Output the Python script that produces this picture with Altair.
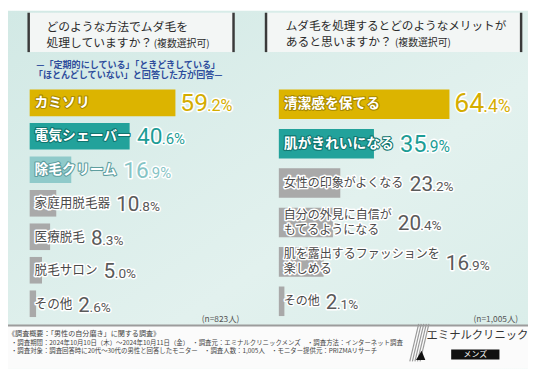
import altair as alt
import pandas as pd

# ---------------- data ----------------
left_categories = ["カミソリ", "電気シェーバー", "除毛クリーム", "家庭用脱毛器", "医療脱毛", "脱毛サロン", "その他"]
left_values = [59.2, 40.6, 16.9, 10.8, 8.3, 5.0, 2.6]
right_categories = ["清潔感を保てる", "肌がきれいになる", "女性の印象がよくなる",
                    "自分の外見に自信が\nもてるようになる", "肌を露出するファッションを\n楽しめる", "その他"]
right_values = [64.4, 35.9, 23.2, 20.4, 16.9, 2.1]

left_title_lines = ["どのような方法でムダ毛を", "処理していますか？"]
right_title_lines = ["ムダ毛を処理するとどのようなメリットが", "あると思いますか？"]
title_note = "(複数選択可)"
left_subtitle_lines = ["—「定期的にしている」「ときどきしている」", "「ほとんどしていない」と回答した方が回答—"]
left_n_label = "(n=823人)"
right_n_label = "(n=1,005人)"
footer_lines = [
    "《調査概要：「男性の自分磨き」に関する調査》",
    "・調査期間：2024年10月10日（木）～2024年10月11日（金）　・調査元：エミナルクリニックメンズ　・調査方法：インターネット調査",
    "・調査対象：調査回答時に20代～30代の男性と回答したモニター　・調査人数：1,005人　・モニター提供元：PRIZMAリサーチ",
]
logo_name = "エミナルクリニック"
logo_sub = "メンズ"

# ---------------- style ----------------
W, H = 528, 363
JP = "Noto Sans CJK JP"
NUM = "Roboto"
BAR_COL = {"gold": "#dcb400", "teal": "#22a29b", "light": "#8fcaca", "gray": "#a9a9a9"}
VAL_COL = {"gold": "#d4ad00", "teal": "#1d9d96", "light": "#86c4c5", "gray": "#5a5a5a"}
EDGE_COL = {"gold": "#a88900", "teal": "#0f746e", "light": "#5e9e9f", "gray": "#888888"}


def ternary(mapping):
    keys = list(mapping.keys())
    s = repr(mapping[keys[-1]])
    for k in reversed(keys[:-1]):
        s = f"datum.kind=={k!r}?{mapping[k]!r}:({s})"
    return s


def panel(cats, vals, n_colored, x0, ppp, y_range, pad, lfs_col, lfs_gray, bfs):
    df = pd.DataFrame({"label": cats, "value": vals, "order": list(range(len(cats)))})
    xs = alt.Scale(domain=[0, 100], range=[x0, x0 + 100 * ppp], nice=False, zero=False)
    ys = alt.Scale(range=y_range, paddingInner=pad, paddingOuter=pad / 2)

    def X(f):
        return alt.X(f"{f}:Q", scale=xs, axis=None)

    Y = alt.Y("order:O", scale=ys, axis=None)
    kind_expr = ("datum.order==0?'gold':(datum.order==1?'teal':"
                 f"((datum.order==2&&{n_colored}>2)?'light':'gray'))")
    base = (
        alt.Chart(df)
        .transform_calculate(kind=kind_expr, zero="0")
        .transform_calculate(
            barcol=ternary(BAR_COL),
            valcol=ternary(VAL_COL),
            edge=ternary(EDGE_COL),
            lfs=f"datum.kind=='gray'?{lfs_gray}:{lfs_col}",
            bfs=ternary(bfs),
            nl="indexof(datum.label,'\\n')",
            s="format(datum.value,'.1f')",
        )
        .transform_calculate(
            nch="datum.nl>=0?max(datum.nl,length(datum.label)-datum.nl-1):length(datum.label)",
            ip="slice(datum.s,0,indexof(datum.s,'.'))",
            dp="slice(datum.s,indexof(datum.s,'.'))+'%'",
            sfs="datum.bfs*0.66",
        )
        .transform_calculate(xv=f"max(datum.value+5/{ppp},(11+datum.nch*datum.lfs)/{ppp})")
        .transform_calculate(xd=f"datum.xv+length(datum.ip)*datum.bfs*0.545/{ppp}")
    )
    bars = base.mark_bar().encode(x=X("value"), y=Y, color=alt.Color("barcol:N", scale=None))
    colored = base.transform_filter("datum.kind!='gray'")
    gray1 = base.transform_filter("datum.kind=='gray' && datum.nl<0")
    gray2 = base.transform_filter("datum.kind=='gray' && datum.nl>=0")
    tkw = dict(align="left", baseline="middle", dx=5, font=JP, lineBreak="\n", lineHeight=15)
    lbl_c_edge = colored.mark_text(fontWeight="bold", fill="white", strokeWidth=2.2,
                                   strokeJoin="round", **tkw).encode(
        x=X("zero"), y=Y, text="label:N", size=alt.Size("lfs:Q", scale=None),
        stroke=alt.Stroke("edge:N", scale=None))
    lbl_c = colored.mark_text(fontWeight="bold", fill="white", **tkw).encode(
        x=X("zero"), y=Y, text="label:N", size=alt.Size("lfs:Q", scale=None))
    layers = [bars, lbl_c_edge, lbl_c]
    for src, dy in [(gray1, 0), (gray2, -7.5)]:
        layers.append(src.mark_text(fill="white", stroke="white", strokeWidth=3,
                                    strokeJoin="round", dy=dy, **tkw).encode(
            x=X("zero"), y=Y, text="label:N", size=alt.Size("lfs:Q", scale=None)))
        layers.append(src.mark_text(fill="#4a4a4a", dy=dy, **tkw).encode(
            x=X("zero"), y=Y, text="label:N", size=alt.Size("lfs:Q", scale=None)))
    vkw = dict(align="left", baseline="alphabetic", dy=8, font=NUM)
    vi_halo = base.mark_text(fill="white", stroke="white", strokeWidth=3, strokeJoin="round", **vkw).encode(
        x=X("xv"), y=Y, text="ip:N", size=alt.Size("bfs:Q", scale=None))
    vi = base.mark_text(**vkw).encode(
        x=X("xv"), y=Y, text="ip:N", size=alt.Size("bfs:Q", scale=None),
        color=alt.Color("valcol:N", scale=None))
    vd_halo = base.mark_text(fill="white", stroke="white", strokeWidth=3, strokeJoin="round", **vkw).encode(
        x=X("xd"), y=Y, text="dp:N", size=alt.Size("sfs:Q", scale=None))
    vd = base.mark_text(**vkw).encode(
        x=X("xd"), y=Y, text="dp:N", size=alt.Size("sfs:Q", scale=None),
        color=alt.Color("valcol:N", scale=None))
    layers += [vi_halo, vi, vd_halo, vd]
    return alt.layer(*layers)


one = pd.DataFrame({"a": [1]})


def txt(s, x, y, size, color, align="left", weight="normal", font=JP, baseline="middle"):
    return alt.Chart(one).mark_text(text=s, align=align, baseline=baseline, fontSize=size,
                                    font=font, fontWeight=weight, color=color).encode(
        x=alt.value(x), y=alt.value(y))


def rect(x, x2, y, y2, fill, opacity=1.0):
    return alt.Chart(one).mark_rect(fill=fill, opacity=opacity).encode(
        x=alt.value(x), x2=alt.value(x2), y=alt.value(y), y2=alt.value(y2))


def line(x, y, x2, y2, color, width):
    return alt.Chart(one).mark_rule(color=color, strokeWidth=width).encode(
        x=alt.value(x), y=alt.value(y), x2=alt.value(x2), y2=alt.value(y2))


bg = alt.Chart(one).mark_rect(
    fill=alt.LinearGradient(gradient="linear", x1=0, y1=0, x2=1, y2=1,
                            stops=[alt.GradientStop(color="#d2e9e5", offset=0),
                                   alt.GradientStop(color="#e2f1ee", offset=0.6),
                                   alt.GradientStop(color="#d9ede9", offset=1)])
).encode(x=alt.value(0), x2=alt.value(W), y=alt.value(0), y2=alt.value(H))

decor = [bg]
# title boxes
for (bx, bx2) in [(21, 229), (262, 521)]:
    decor.append(rect(bx, bx2, 2, 42, "#f3f6f5"))
    decor.append(line(bx, 2, bx, 42, "#3a3a3a", 2.5))
    decor.append(line(bx2, 2, bx2, 42, "#3a3a3a", 2.5))
decor += [
    txt(left_title_lines[0], 39, 17, 12, "#2b2b2b"),
    txt(left_title_lines[1], 39, 33, 12, "#2b2b2b"),
    txt(title_note, 148, 33.5, 10, "#2b2b2b"),
    txt(right_title_lines[0], 282, 16, 11.8, "#2b2b2b"),
    txt(right_title_lines[1], 282, 32, 12, "#2b2b2b"),
    txt(title_note, 393, 32.5, 10, "#2b2b2b"),
    txt(left_subtitle_lines[0], 122, 55, 9.2, "#2e4d9c", align="center", weight="bold"),
    txt(left_subtitle_lines[1], 122, 65.5, 9.2, "#2e4d9c", align="center", weight="bold"),
]

left_panel = panel(left_categories, left_values, 3, 22, 2.5, [76.5, 314.5], 0.206, 14, 12.8,
                   {"gold": 25, "teal": 23, "light": 23, "gray": 21})
right_panel = panel(right_categories, right_values, 2, 275, 2.69, [75, 315], 0.25, 14, 12.2,
                    {"gold": 27, "teal": 24, "light": 24, "gray": 21})

after = [
    txt(left_n_label, 235, 313, 8.5, "#555555", align="right"),
    txt(right_n_label, 518, 313, 8.5, "#555555", align="right"),
    rect(0, W, 320, H, "#fbfbfb"),
    line(0, 319.5, W, 319.5, "#9c9c9c", 2),
    txt(footer_lines[0], 0, 328, 7.2, "#444444"),
    txt(footer_lines[1], 3, 337, 6.5, "#444444"),
    txt(footer_lines[2], 3, 346, 6.5, "#444444"),
]
# logo
for i in range(5):
    after.append(line(408 + 2.6 * i, 356, 417 + 2.6 * i, 318, "#9a9a9a", 1.2))
after.append(alt.Chart(one).mark_point(shape="M-1,1L0.2,-1L1,1Z", filled=True, color="#111111",
                                       size=90, opacity=1).encode(x=alt.value(419), y=alt.value(350)))
after += [
    txt(logo_name, 425, 330, 11.5, "#333333"),
    rect(450, 499, 344, 354, "#111111"),
    txt(logo_sub, 474.5, 349.5, 8, "#ffffff", align="center"),
]

chart = (
    alt.layer(*decor, left_panel, right_panel, *after)
    .resolve_scale(x="independent", y="independent")
    .properties(width=W, height=H, padding=0, autosize=alt.AutoSizeParams(type="none"))
    .configure_view(stroke=None)
)

chart.save("out.html", embed_options={"renderer": "svg", "actions": False})
